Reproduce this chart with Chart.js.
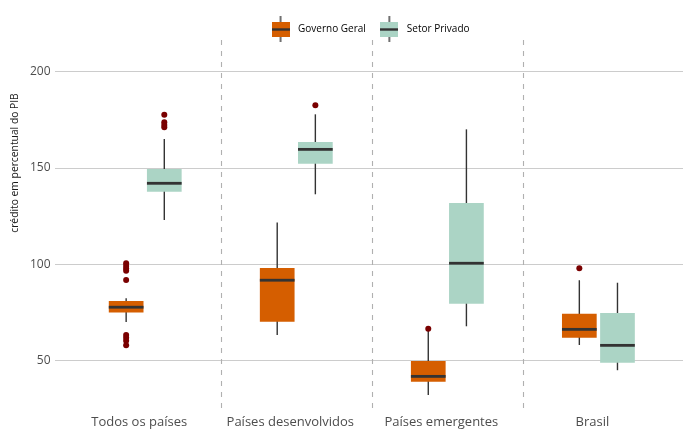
<!DOCTYPE html>
<html>
<head>
<meta charset="utf-8">
<script src="https://cdn.jsdelivr.net/npm/chart.js@4.4.1/dist/chart.umd.min.js"></script>
<style>
  html, body { margin: 0; padding: 0; background: #fff; }
  #wrap { width: 684px; height: 430px; position: relative; }
</style>
</head>
<body>
<div id="wrap"><canvas id="chart" width="684" height="430"></canvas></div>
<script>
const categories = ["Todos os países", "Países desenvolvidos", "Países emergentes", "Brasil"];
const yTicks = [50, 100, 150, 200];
const seriesNames = ["Governo Geral", "Setor Privado"];

// Governo Geral
const govLow = [70.1, 63.4, 32.2, 58.2];
const govQ1 = [75.0, 70.3, 39.1, 62.0];
const govMedian = [77.8, 91.8, 41.9, 66.3];
const govQ3 = [81.0, 98.1, 49.9, 74.4];
const govHigh = [82.4, 121.7, 66.0, 91.8];
const govOutliers = [[100.6, 99.2, 97.9, 96.7, 91.9, 63.4, 62.0, 60.4, 58.0], [], [66.6], [98.0]];

// Setor Privado
const privLow = [123.1, 136.4, 67.9, 45.1];
const privQ1 = [137.7, 152.3, 79.6, 49.0];
const privMedian = [142.1, 159.7, 100.6, 58.0];
const privQ3 = [149.5, 163.5, 131.9, 74.8];
const privHigh = [165.1, 177.9, 170.1, 90.5];
const privOutliers = [[177.7, 173.8, 172.4, 171.2], [182.6], [], []];

const GOV_COLOR = "#d55e00";
const PRIV_COLOR = "#abd4c5";
const DARK = "#333333";
const OUTLIER = "#7a0000";

// axis calibration (pixel per unit and a reference point on the panel)
const PX_PER_UNIT = 1.927;
const REF_VALUE = 125;
const REF_PIXEL = 216.25;

function legendKey(color) {
  const c = document.createElement("canvas");
  c.width = 18; c.height = 26;
  const g = c.getContext("2d");
  g.strokeStyle = DARK; g.lineWidth = 1.4;
  g.beginPath(); g.moveTo(9, 0); g.lineTo(9, 26); g.stroke();
  g.fillStyle = color; g.fillRect(0, 6, 18, 15);
  g.fillStyle = DARK; g.fillRect(0, 12.3, 18, 2.4);
  return c;
}

function boxData(q1, q3) {
  return categories.map((c, i) => ({ x: i, y: [q1[i], q3[i]] }));
}

const stats = [
  { low: govLow, med: govMedian, high: govHigh, out: govOutliers },
  { low: privLow, med: privMedian, high: privHigh, out: privOutliers },
];

const boxExtras = {
  id: "boxExtras",
  beforeDatasetsDraw(chart) {
    const { ctx, chartArea, scales: { x, y } } = chart;
    ctx.save();
    // dashed separators between groups
    ctx.strokeStyle = "#b0b0b0";
    ctx.lineWidth = 1.1;
    ctx.setLineDash([5, 6]);
    for (let i = 0; i < categories.length - 1; i++) {
      const px = Math.round(x.getPixelForValue(i + 0.5)) + 0.5;
      ctx.beginPath();
      ctx.moveTo(px, chartArea.bottom);
      ctx.lineTo(px, chartArea.top - 10);
      ctx.stroke();
    }
    ctx.setLineDash([]);
    // whiskers
    ctx.strokeStyle = DARK;
    ctx.lineWidth = 1.4;
    stats.forEach((s, di) => {
      chart.getDatasetMeta(di).data.forEach((bar, i) => {
        ctx.beginPath();
        ctx.moveTo(bar.x, y.getPixelForValue(s.low[i]));
        ctx.lineTo(bar.x, y.getPixelForValue(s.high[i]));
        ctx.stroke();
      });
    });
    ctx.restore();
  },
  afterDatasetsDraw(chart) {
    const { ctx, scales: { y } } = chart;
    ctx.save();
    stats.forEach((s, di) => {
      chart.getDatasetMeta(di).data.forEach((bar, i) => {
        const my = y.getPixelForValue(s.med[i]);
        ctx.fillStyle = DARK;
        ctx.fillRect(bar.x - bar.width / 2, my - 1.4, bar.width, 2.8);
        ctx.fillStyle = OUTLIER;
        s.out[i].forEach(v => {
          ctx.beginPath();
          ctx.arc(bar.x, y.getPixelForValue(v), 3, 0, Math.PI * 2);
          ctx.fill();
        });
      });
    });
    ctx.restore();
  },
  afterDraw(chart) {
    const { ctx, scales: { x } } = chart;
    ctx.save();
    // category labels under the panel
    ctx.fillStyle = "#4d4d4d";
    ctx.font = "13px 'Open Sans'";
    ctx.textAlign = "center";
    ctx.textBaseline = "alphabetic";
    categories.forEach((c, i) => ctx.fillText(c, x.getPixelForValue(i) - 6, 426));
    // y axis title
    ctx.translate(15, 163);
    ctx.rotate(-Math.PI / 2);
    ctx.fillStyle = "#1a1a1a";
    ctx.font = "10.3px 'Open Sans'";
    ctx.textBaseline = "middle";
    ctx.fillText("crédito em percentual do PIB", 0, 0);
    ctx.restore();
  }
};

const keys = [legendKey(GOV_COLOR), legendKey(PRIV_COLOR)];

const chart = new Chart(document.getElementById("chart"), {
  type: "bar",
  data: {
    datasets: [
      { label: seriesNames[0], data: boxData(govQ1, govQ3), backgroundColor: GOV_COLOR },
      { label: seriesNames[1], data: boxData(privQ1, privQ3), backgroundColor: PRIV_COLOR },
    ],
  },
  options: {
    responsive: false,
    animation: false,
    categoryPercentage: 0.505,
    barPercentage: 0.91,
    borderWidth: 0,
    layout: { padding: { left: 26, right: 1, top: 13, bottom: 22 } },
    plugins: {
      tooltip: { enabled: false },
      legend: {
        position: "top",
        fullSize: false,
        labels: {
          usePointStyle: true,
          pointStyleWidth: 25,
          padding: 11,
          color: "#1a1a1a",
          font: { family: "'Open Sans'", size: 10 },
          generateLabels: (chart) => chart.data.datasets.map((ds, i) => ({
            text: ds.label,
            pointStyle: keys[i],
            fillStyle: ds.backgroundColor,
            lineWidth: 0,
            datasetIndex: i,
          })),
        },
      },
    },
    scales: {
      x: {
        type: "linear",
        min: -0.6,
        max: 3.56,
        offset: false,
        afterBuildTicks: (scale) => { scale.ticks = categories.map((c, i) => ({ value: i })); },
        grid: { display: false, drawTicks: false },
        border: { display: false },
        ticks: { display: false },
      },
      y: {
        min: 25.5,
        max: 220,
        afterBuildTicks: (scale) => { scale.ticks = yTicks.map(v => ({ value: v })); },
        grid: { color: "#cccccc", lineWidth: 1, drawTicks: false },
        border: { display: false },
        ticks: {
          padding: 4,
          color: "#4d4d4d",
          font: { family: "'Open Sans'", size: 12 },
        },
      },
    },
  },
  plugins: [boxExtras],
});

// match the panel's value range to the reference calibration
const ca = chart.chartArea;
chart.options.scales.y.min = REF_VALUE - (ca.bottom - REF_PIXEL) / PX_PER_UNIT;
chart.options.scales.y.max = REF_VALUE + (REF_PIXEL - ca.top) / PX_PER_UNIT;
chart.update();
</script>
</body>
</html>
